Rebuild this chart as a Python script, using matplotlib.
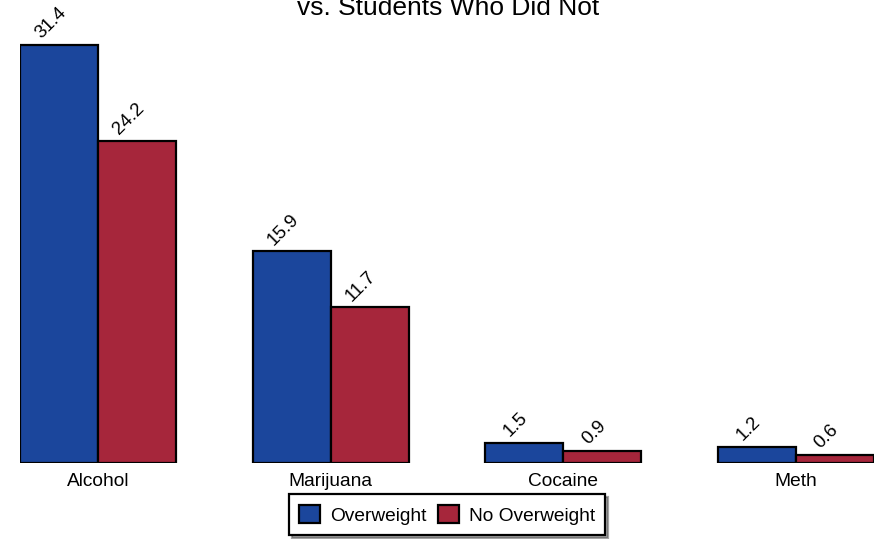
import matplotlib
matplotlib.use("Agg")
import matplotlib.pyplot as plt
import numpy as np

plt.rcParams['font.family'] = ['Liberation Sans', 'DejaVu Sans']

categories = ["Alcohol", "Marijuana", "Cocaine", "Meth"]
overweight = [31.4, 15.9, 1.5, 1.2]
no_overweight = [24.2, 11.7, 0.9, 0.6]
series_names = ["Overweight", "No Overweight"]
title_lines = "vs. Students Who Did Not"

blue = '#1B469C'
red = '#A6263B'

fig = plt.figure(figsize=(8.8, 5.39), dpi=100)
ax = fig.add_axes([20/880, 1 - 463/539, 854/880, 463/539])

x = np.arange(len(categories))
w = 0.335
b1 = ax.bar(x - w/2, overweight, w, color=blue, edgecolor='black', linewidth=1.6, label=series_names[0])
b2 = ax.bar(x + w/2, no_overweight, w, color=red, edgecolor='black', linewidth=1.6, label=series_names[1])

for bars, vals in ((b1, overweight), (b2, no_overweight)):
    for rect, v in zip(bars, vals):
        ax.annotate(f"{v}", (rect.get_x() + rect.get_width()/2, v),
                    xytext=(-6, 2), textcoords='offset points',
                    rotation=45, ha='center', va='bottom', fontsize=13.5)

ax.set_xlim(-w, 3 + w)
ax.set_ylim(0, 463/13.31)
ax.set_xticks(x)
ax.set_xticklabels(categories, fontsize=13.8)
ax.tick_params(axis='x', length=0, pad=7)
ax.set_yticks([])
for s in ax.spines.values():
    s.set_visible(False)

leg = ax.legend(loc='upper center', bbox_to_anchor=(0.5, -0.068), ncol=2,
                frameon=True, fancybox=False, shadow=True, fontsize=13.8,
                handlelength=1.1, handleheight=1.1, handletextpad=0.5,
                columnspacing=0.6, borderpad=0.55, borderaxespad=0)
leg.get_frame().set_edgecolor('black')
leg.get_frame().set_linewidth(1.6)

fig.text(0.509, 1 - 15/539, title_lines, ha='center', va='baseline', fontsize=19)

fig.savefig("out.png", dpi=100)
